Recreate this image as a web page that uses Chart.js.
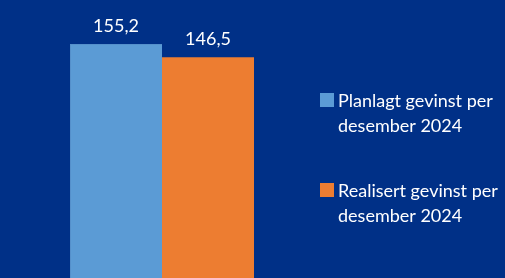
<!DOCTYPE html>
<html><head><meta charset="utf-8">
<script src="https://cdn.jsdelivr.net/npm/chart.js@4"></script>
<style>html,body{margin:0;padding:0;background:#003087;}#w{width:505px;height:278px;}</style>
</head><body><div id="w"><canvas id="c"></canvas></div>
<script>
const categories = [""];
const seriesLabels = [["Planlagt gevinst per", "desember 2024"], ["Realisert gevinst per", "desember 2024"]];
const planlagt = [155.2];
const realisert = [146.5];
const seriesColors = ["#5B9BD5", "#ED7D31"];

const valueLabels = {
  id: 'valueLabels',
  afterDatasetsDraw(chart) {
    const ctx = chart.ctx;
    ctx.save();
    ctx.fillStyle = '#FFFFFF';
    ctx.font = '18px Lato';
    ctx.textAlign = 'center';
    ctx.textBaseline = 'alphabetic';
    chart.data.datasets.forEach((ds, i) => {
      chart.getDatasetMeta(i).data.forEach((el, j) => {
        const txt = ds.data[j].toFixed(1).replace('.', ',');
        ctx.fillText(txt, el.x, el.y - 12);
      });
    });
    ctx.restore();
  }
};

const sideLegend = {
  id: 'sideLegend',
  afterDraw(chart) {
    const ctx = chart.ctx;
    ctx.save();
    ctx.font = '18px Lato';
    ctx.textAlign = 'left';
    ctx.textBaseline = 'alphabetic';
    const starts = [107, 197];
    chart.data.datasets.forEach((ds, i) => {
      const base = starts[i];
      ctx.fillStyle = ds.backgroundColor;
      ctx.fillRect(320, base - 14, 14, 14);
      ctx.fillStyle = '#FFFFFF';
      ds.label.forEach((line, k) => ctx.fillText(line, 338, base + k * 24.5));
    });
    ctx.restore();
  }
};

new Chart(document.getElementById('c'), {
  type: 'bar',
  data: {
    labels: categories,
    datasets: [
      { label: seriesLabels[0], data: planlagt, backgroundColor: seriesColors[0], borderColor: '#5590CB', borderWidth: {left:1, top:1, right:0, bottom:0}, borderSkipped: false },
      { label: seriesLabels[1], data: realisert, backgroundColor: seriesColors[1], borderWidth: 0 }
    ]
  },
  options: {
    responsive: true,
    maintainAspectRatio: false,
    animation: false,
    layout: { padding: { left: 0, right: 181, top: 0, bottom: 0 } },
    datasets: { bar: { categoryPercentage: 184/324, barPercentage: 1 } },
    scales: {
      x: { display: false },
      y: { display: false, min: 0, max: 184.4 }
    },
    plugins: { legend: { display: false }, tooltip: { enabled: false } }
  },
  plugins: [valueLabels, sideLegend]
});
</script></body></html>
